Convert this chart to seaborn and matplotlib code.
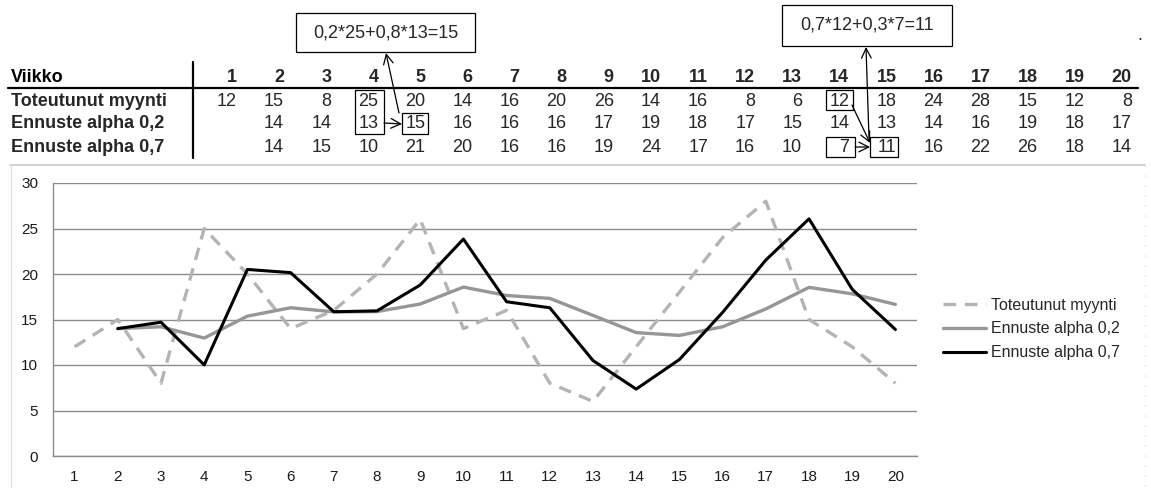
import numpy as np
import pandas as pd
import matplotlib
matplotlib.use("Agg")
import matplotlib.pyplot as plt
from matplotlib.patches import Rectangle, FancyArrowPatch
from matplotlib.lines import Line2D
import seaborn as sns

# Weekly sales and exponential smoothing forecasts
weeks = list(range(1, 21))
actual_sales = [12, 15, 8, 25, 20, 14, 16, 20, 26, 14, 16, 8, 6, 12, 18, 24, 28, 15, 12, 8]
forecast_a02 = [np.nan, 14.0, 14.2, 12.96, 15.37, 16.29, 15.84, 15.87, 16.70, 18.56,
                17.64, 17.32, 15.45, 13.56, 13.25, 14.2, 16.16, 18.53, 17.82, 16.66]
forecast_a07 = [np.nan, 14.0, 14.7, 10.01, 20.50, 20.15, 15.85, 15.95, 18.79, 23.84,
                16.95, 16.29, 10.49, 7.35, 10.60, 15.78, 21.53, 26.06, 18.32, 13.90]

series_names = ["Toteutunut myynti", "Ennuste alpha 0,2", "Ennuste alpha 0,7"]
row_header = "Viikko"
formula_1 = "0,2*25+0,8*13=15"
formula_2 = "0,7*12+0,3*7=11"

W, H = 1151, 488
sns.set_theme(style="white")
plt.rcParams["font.family"] = ["Liberation Sans", "DejaVu Sans"]

fig = plt.figure(figsize=(W / 100, H / 100), dpi=100)


def fx(x):
    return x / W


def fy(y):
    return 1 - y / H


def whole(v):
    # round half up, as a spreadsheet does
    return str(int(np.floor(v + 0.5)))


# ---------- table above the chart ----------
col_right = [237 + 47.1 * i for i in range(20)]
row_y = [77, 101, 124, 147]
tfs = 13

fig.text(fx(11), fy(row_y[0]), row_header, fontsize=tfs, fontweight="bold",
         va="center", ha="left", color="black")
for i, w in enumerate(weeks):
    fig.text(fx(col_right[i]), fy(row_y[0]), str(w), fontsize=tfs, fontweight="bold",
             va="center", ha="right")

rows = [actual_sales, forecast_a02, forecast_a07]
for r, (name, vals) in enumerate(zip(series_names, rows)):
    y = row_y[r + 1]
    fig.text(fx(11), fy(y), name, fontsize=tfs, fontweight="bold", va="center", ha="left")
    for i, v in enumerate(vals):
        if np.isnan(v):
            continue
        fig.text(fx(col_right[i]), fy(y), whole(v), fontsize=tfs, va="center", ha="right")

# header rule and separator
fig.add_artist(Line2D([fx(8), fx(1138)], [fy(87.5), fy(87.5)], color="black", lw=1.6))
fig.add_artist(Line2D([fx(193), fx(193)], [fy(62), fy(158)], color="black", lw=1.6))


def box(x0, y0, x1, y1, lw=0.9):
    fig.add_artist(Rectangle((fx(x0), fy(y1)), fx(x1) - fx(x0), fy(y0) - fy(y1),
                             transform=fig.transFigure, fill=False, ec="black", lw=lw))


def arrow(x0, y0, x1, y1):
    fig.add_artist(FancyArrowPatch((fx(x0), fy(y0)), (fx(x1), fy(y1)),
                                   transform=fig.transFigure,
                                   arrowstyle="->,head_length=7,head_width=3.5",
                                   color="black", lw=0.9, mutation_scale=1,
                                   shrinkA=0, shrinkB=0))


# first worked example (alpha 0,2, week 5)
box(296, 13, 475, 52)
fig.text(fx(385.5), fy(33), formula_1, fontsize=tfs, ha="center", va="center")
box(355, 90, 384, 134)
box(402, 113, 428, 134)
arrow(384, 123, 402, 124)
arrow(399, 113, 386, 53)

# second worked example (alpha 0,7, week 15)
box(782, 5, 952, 46)
fig.text(fx(867), fy(25.5), formula_2, fontsize=tfs, ha="center", va="center")
box(826, 90, 853, 110)
box(826, 137, 855, 157)
box(870, 137, 898, 157)
arrow(855, 147, 870, 147)
arrow(852, 105, 870, 143)
arrow(869, 138, 866, 47)
fig.text(fx(1140), fy(36), ".", fontsize=tfs, ha="center", va="center")

# ---------- chart frame ----------
fig.add_artist(Line2D([fx(10), fx(1145)], [fy(164.5), fy(164.5)], color="#c8c8c8", lw=1.2))
fig.add_artist(Line2D([fx(11), fx(11)], [fy(164.5), fy(488)], color="#e4e4e4", lw=1.0))
fig.add_artist(Line2D([fx(1145), fx(1145)], [fy(164.5), fy(488)], color="#d0d0d0", lw=0.8,
                      linestyle=(0, (1, 8))))

ax = fig.add_axes([fx(53), fy(456), fx(917) - fx(53), fy(183) - fy(456)])

df = pd.DataFrame({"Viikko": weeks,
                   series_names[0]: actual_sales,
                   series_names[1]: forecast_a02,
                   series_names[2]: forecast_a07})

sns.lineplot(data=df, x="Viikko", y=series_names[0], ax=ax, color="#b4b4b4", lw=2.4,
             linestyle=(0, (3.8, 2.6)), label=series_names[0])
sns.lineplot(data=df, x="Viikko", y=series_names[1], ax=ax, color="#969696", lw=2.4,
             label=series_names[1])
sns.lineplot(data=df, x="Viikko", y=series_names[2], ax=ax, color="black", lw=2.2,
             label=series_names[2])

ax.set_xlim(0.5, 20.5)
ax.set_ylim(0, 30)
ax.set_yticks(range(0, 31, 5))
ax.set_xticks(weeks)
ax.set_xticks(np.arange(0.5, 21, 1), minor=True)
ax.tick_params(axis="x", which="major", length=0, labelsize=11, pad=10, labelcolor="#1a1a1a")
ax.tick_params(axis="x", which="minor", length=3.6, width=1, color="#8c8c8c", direction="out")
ax.tick_params(axis="y", which="major", length=3.6, width=1, color="#8c8c8c", direction="out",
               labelsize=11, pad=7, labelcolor="#1a1a1a")
ax.yaxis.grid(True, color="#8c8c8c", lw=1)
ax.set_axisbelow(True)
ax.set_xlabel("")
ax.set_ylabel("")
for side in ["top", "right"]:
    ax.spines[side].set_visible(False)
for side in ["left", "bottom"]:
    ax.spines[side].set_color("#8c8c8c")
    ax.spines[side].set_linewidth(1)

ax.legend(loc="center left", bbox_to_anchor=(fx(943), fy(329)), bbox_transform=fig.transFigure,
          frameon=False, fontsize=11.5, handlelength=2.7, handletextpad=0.3,
          labelspacing=0.55, borderpad=0, borderaxespad=0)

fig.savefig("out.png", dpi=100)
